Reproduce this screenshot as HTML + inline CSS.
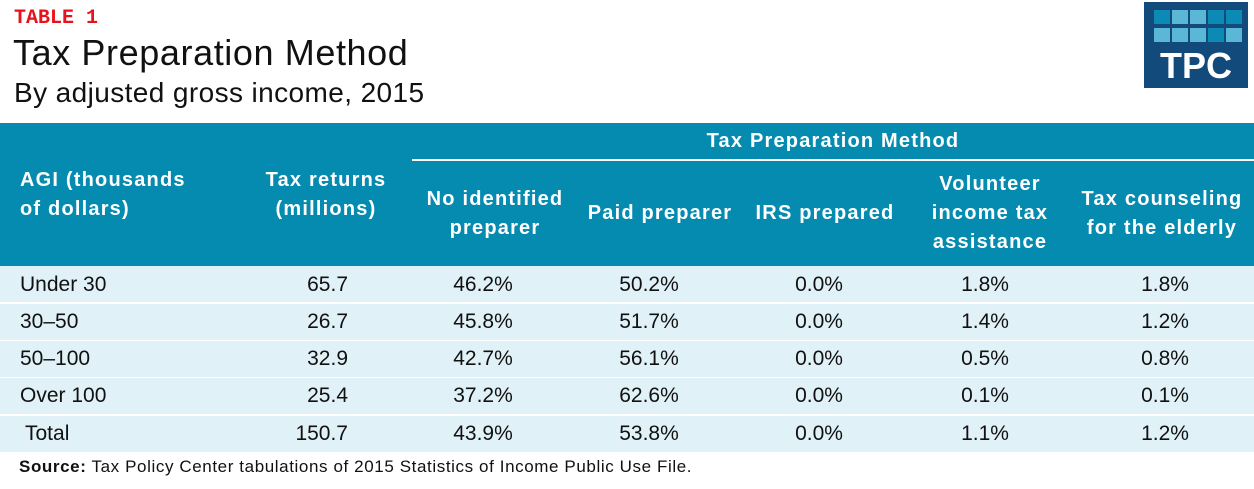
<!DOCTYPE html>
<html><head><style>
body{margin:0;width:1254px;height:489px;background:#fff;position:relative;overflow:hidden;font-family:"Liberation Sans",sans-serif;}
.a{position:absolute;white-space:nowrap;}
.h{color:#fff;font-weight:bold;font-size:20px;letter-spacing:1.2px;text-align:center;line-height:29px;}
.r{position:absolute;left:0;width:1254px;height:36px;background:#E0F1F8;}
.c{position:absolute;font-size:21px;color:#111;line-height:36px;text-align:center;}
.sq{position:absolute;width:16px;height:14px;}
</style></head><body>
<div class="a" style="left:14px;top:7px;font-family:'Liberation Mono',monospace;font-weight:bold;color:#e8121b;font-size:20px;">TABLE 1</div>
<div class="a" style="left:13px;top:32px;font-size:36px;letter-spacing:0.6px;color:#111;">Tax Preparation Method</div>
<div class="a" style="left:14px;top:77px;font-size:28px;letter-spacing:0.4px;color:#111;">By adjusted gross income, 2015</div>
<div class="a" style="left:1144px;top:2px;width:104px;height:86px;background:#134a7c;">
<div class="sq" style="left:10px;top:8px;background:#0a8ab4"></div><div class="sq" style="left:28px;top:8px;background:#5bb7d6"></div><div class="sq" style="left:46px;top:8px;background:#5bb7d6"></div><div class="sq" style="left:64px;top:8px;background:#0a8ab4"></div><div class="sq" style="left:82px;top:8px;background:#0a8ab4"></div>
<div class="sq" style="left:10px;top:26px;background:#5bb7d6"></div><div class="sq" style="left:28px;top:26px;background:#5bb7d6"></div><div class="sq" style="left:46px;top:26px;background:#5bb7d6"></div><div class="sq" style="left:64px;top:26px;background:#0a8ab4"></div><div class="sq" style="left:82px;top:26px;background:#5bb7d6"></div>
<div class="a" style="left:0;width:104px;top:44px;text-align:center;color:#fff;font-weight:bold;font-size:36px;line-height:40px;">TPC</div>
</div>
<div class="a" style="left:0;top:123px;width:1254px;height:143px;background:#058bb0;"></div>
<div class="a" style="left:412px;top:159px;width:842px;height:2px;background:#fff;"></div>
<div class="a h" style="left:412px;width:842px;top:127px;">Tax Preparation Method</div>
<div class="a h" style="left:20px;top:166px;text-align:left;">AGI (thousands<br>of dollars)</div>
<div class="a h" style="left:226px;width:200px;top:166px;">Tax returns<br>(millions)</div>
<div class="a h" style="left:395px;width:200px;top:185px;">No identified<br>preparer</div>
<div class="a h" style="left:560px;width:200px;top:199px;">Paid preparer</div>
<div class="a h" style="left:725px;width:200px;top:199px;">IRS prepared</div>
<div class="a h" style="left:890px;width:200px;top:170px;">Volunteer<br>income tax<br>assistance</div>
<div class="a h" style="left:1062px;width:200px;top:185px;">Tax counseling<br>for the elderly</div>

<div class="r" style="top:266px"></div>
<div class="r" style="top:304px"></div>
<div class="r" style="top:341px"></div>
<div class="r" style="top:378px"></div>
<div class="r" style="top:416px"></div>

<div class="c" style="left:20px;top:267px;">Under 30</div>
<div class="c" style="left:20px;top:304px;">30–50</div>
<div class="c" style="left:20px;top:341px;">50–100</div>
<div class="c" style="left:20px;top:378px;">Over 100</div>
<div class="c" style="left:25px;top:416px;">Total</div>

<div class="c" style="left:248px;width:100px;text-align:right;top:267px;">65.7</div>
<div class="c" style="left:248px;width:100px;text-align:right;top:304px;">26.7</div>
<div class="c" style="left:248px;width:100px;text-align:right;top:341px;">32.9</div>
<div class="c" style="left:248px;width:100px;text-align:right;top:378px;">25.4</div>
<div class="c" style="left:248px;width:100px;text-align:right;top:416px;">150.7</div>

<div class="c" style="left:433px;width:100px;top:267px;">46.2%</div>
<div class="c" style="left:433px;width:100px;top:304px;">45.8%</div>
<div class="c" style="left:433px;width:100px;top:341px;">42.7%</div>
<div class="c" style="left:433px;width:100px;top:378px;">37.2%</div>
<div class="c" style="left:433px;width:100px;top:416px;">43.9%</div>

<div class="c" style="left:599px;width:100px;top:267px;">50.2%</div>
<div class="c" style="left:599px;width:100px;top:304px;">51.7%</div>
<div class="c" style="left:599px;width:100px;top:341px;">56.1%</div>
<div class="c" style="left:599px;width:100px;top:378px;">62.6%</div>
<div class="c" style="left:599px;width:100px;top:416px;">53.8%</div>

<div class="c" style="left:769px;width:100px;top:267px;">0.0%</div>
<div class="c" style="left:769px;width:100px;top:304px;">0.0%</div>
<div class="c" style="left:769px;width:100px;top:341px;">0.0%</div>
<div class="c" style="left:769px;width:100px;top:378px;">0.0%</div>
<div class="c" style="left:769px;width:100px;top:416px;">0.0%</div>

<div class="c" style="left:935px;width:100px;top:267px;">1.8%</div>
<div class="c" style="left:935px;width:100px;top:304px;">1.4%</div>
<div class="c" style="left:935px;width:100px;top:341px;">0.5%</div>
<div class="c" style="left:935px;width:100px;top:378px;">0.1%</div>
<div class="c" style="left:935px;width:100px;top:416px;">1.1%</div>

<div class="c" style="left:1115px;width:100px;top:267px;">1.8%</div>
<div class="c" style="left:1115px;width:100px;top:304px;">1.2%</div>
<div class="c" style="left:1115px;width:100px;top:341px;">0.8%</div>
<div class="c" style="left:1115px;width:100px;top:378px;">0.1%</div>
<div class="c" style="left:1115px;width:100px;top:416px;">1.2%</div>

<div class="a" style="left:19px;top:457px;font-size:17px;letter-spacing:0.6px;color:#111;"><b>Source:</b> Tax Policy Center tabulations of 2015 Statistics of Income Public Use File.</div>
</body></html>
